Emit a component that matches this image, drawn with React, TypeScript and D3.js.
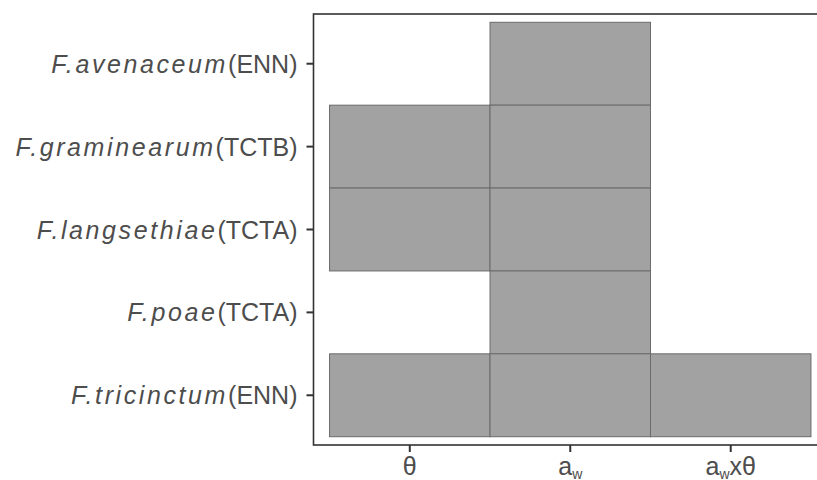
import React from "react";
import * as d3 from "d3";

const species = ["F.avenaceum", "F.graminearum", "F.langsethiae", "F.poae", "F.tricinctum"];
const toxins = ["ENN", "TCTB", "TCTA", "TCTA", "ENN"];
const factors = ["theta", "aw", "awxtheta"];
// presence matrix: rows = species, cols = factors
const presence = [
  [0, 1, 0],
  [1, 1, 0],
  [1, 1, 0],
  [0, 1, 0],
  [1, 1, 1],
];

const W = 817;
const H = 480;
const panel = { left: 313.5, top: 14, right: 827, bottom: 445 };

export default function App() {
  const x = d3
    .scaleLinear()
    .domain([0.4, factors.length + 0.6])
    .range([panel.left, panel.right]);
  const y = d3
    .scaleLinear()
    .domain([0.4, species.length + 0.6])
    .range([panel.top, panel.bottom]);

  const tiles: { r: number; c: number }[] = [];
  presence.forEach((row, r) =>
    row.forEach((v, c) => {
      if (v) tiles.push({ r, c });
    })
  );

  const font = "'Liberation Sans', Arial, sans-serif";
  const textCol = "#4d4d4d";

  const xLabel = (f: string) => {
    if (f === "theta") return <tspan>θ</tspan>;
    if (f === "aw")
      return (
        <>
          <tspan>a</tspan>
          <tspan fontSize={14} dy={3.5}>w</tspan>
        </>
      );
    return (
      <>
        <tspan>a</tspan>
        <tspan fontSize={14} dy={3.5}>w</tspan>
        <tspan dy={-3.5}>xθ</tspan>
      </>
    );
  };

  return (
    <svg
      width={W}
      height={H}
      style={{ position: "absolute", left: 0, top: 0, background: "#fff" }}
      fontFamily={font}
    >
      <rect x={0} y={0} width={W} height={H} fill="#fff" />
      {tiles.map(({ r, c }) => (
        <rect
          key={`${r}-${c}`}
          x={x(c + 0.5)}
          y={y(r + 0.5)}
          width={x(c + 1.5) - x(c + 0.5)}
          height={y(r + 1.5) - y(r + 0.5)}
          fill="#a2a2a2"
          stroke="#6b6b6b"
          strokeWidth={1}
        />
      ))}
      <rect
        x={panel.left}
        y={panel.top}
        width={panel.right - panel.left}
        height={panel.bottom - panel.top}
        fill="none"
        stroke="#333"
        strokeWidth={1.6}
      />
      {species.map((s, i) => (
        <g key={s}>
          <line
            x1={panel.left - 7}
            x2={panel.left}
            y1={y(i + 1)}
            y2={y(i + 1)}
            stroke="#333"
            strokeWidth={2}
          />
          <text
            x={panel.left - 16}
            y={y(i + 1)}
            dy="0.36em"
            textAnchor="end"
            fontSize={25}
            fill={textCol}
          >
            <tspan fontStyle="italic" letterSpacing={2.6}>{s}</tspan>
            <tspan>({toxins[i]})</tspan>
          </text>
        </g>
      ))}
      {factors.map((f, i) => (
        <g key={f}>
          <line
            x1={x(i + 1)}
            x2={x(i + 1)}
            y1={panel.bottom}
            y2={panel.bottom + 7}
            stroke="#333"
            strokeWidth={2}
          />
          <text
            x={x(i + 1)}
            y={panel.bottom + 30}
            textAnchor="middle"
            fontSize={25}
            fill={textCol}
          >
            {xLabel(f)}
          </text>
        </g>
      ))}
    </svg>
  );
}
